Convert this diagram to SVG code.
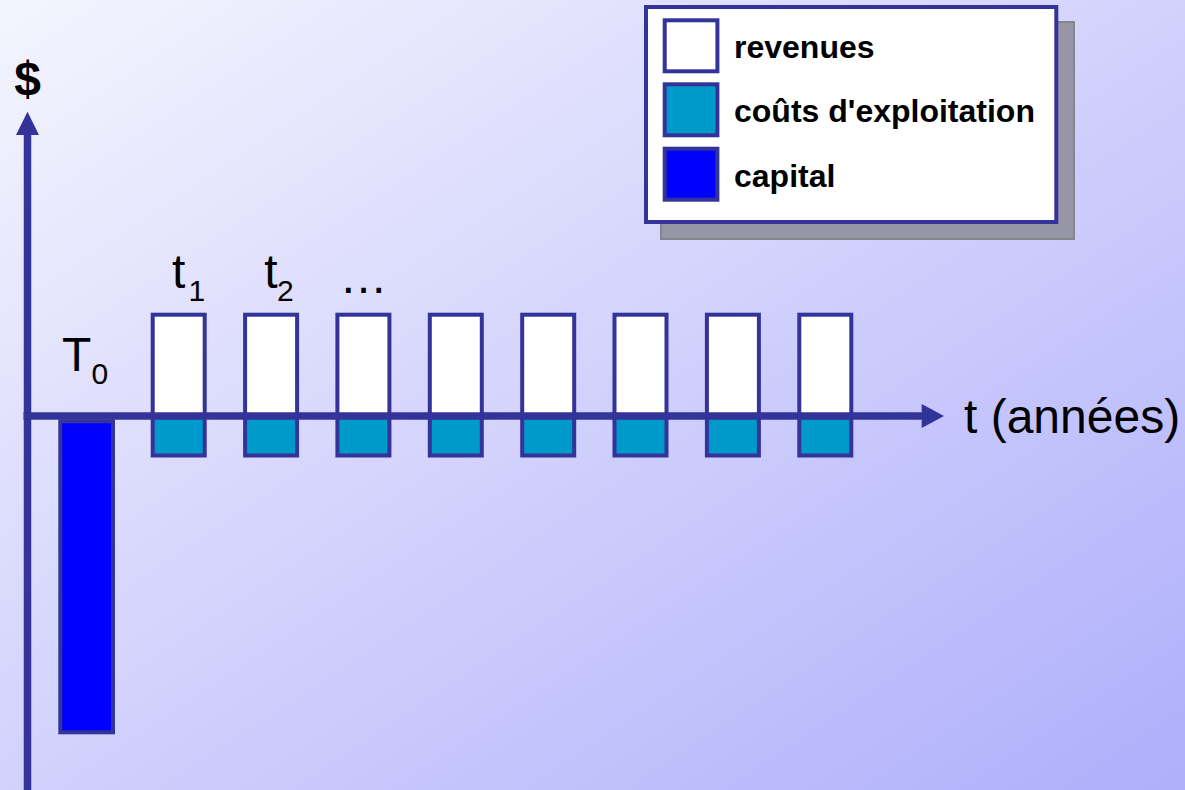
<svg xmlns="http://www.w3.org/2000/svg" width="1185" height="790" viewBox="0 0 1185 790">
<defs>
<linearGradient id="bg" x1="0" y1="0" x2="1" y2="1">
<stop offset="0" stop-color="#F5F5FE"/>
<stop offset="1" stop-color="#AEAEFB"/>
</linearGradient>
<style>
.ax{stroke:#333399;stroke-width:7.5;fill:none}
.head{fill:#333399}
.rev{fill:#FFFFFF;stroke:#333399;stroke-width:4}
.cost{fill:#0099CC;stroke:#333399;stroke-width:4}
.cap{fill:#0000FF;stroke:#333399;stroke-width:4}
.lbl{font-family:"Liberation Sans",Arial,sans-serif;font-size:48px;fill:#000}
.leg{font-family:"Liberation Sans",Arial,sans-serif;font-size:32px;font-weight:bold;fill:#000}
</style>
</defs>
<rect width="1185" height="790" fill="url(#bg)"/>

<g id="legend">
<rect x="661" y="22" width="413" height="217" fill="#9696A6" stroke="#858590" stroke-width="2"/>
<rect x="646" y="7" width="410.3" height="215" fill="#FFFFFF" stroke="#333399" stroke-width="4"/>
<rect class="rev" x="664.7" y="20.3" width="52.7" height="51"/>
<rect class="cost" x="664.7" y="84.3" width="52.7" height="51"/>
<rect class="cap" x="664.7" y="148.7" width="52.7" height="51"/>
<text class="leg" x="734" y="58.3">revenues</text>
<text class="leg" x="734" y="121.7">coûts d'exploitation</text>
<text class="leg" x="734" y="186.7">capital</text>
</g>

<g id="capital-bar">
<rect class="cap" x="60.3" y="421.3" width="52.7" height="311"/>
</g>

<g id="bars">
<g id="bar1"><rect class="rev" x="152.7" y="314.7" width="52" height="101.3"/><rect class="cost" x="152.7" y="416" width="52" height="39.5"/></g>
<g id="bar2"><rect class="rev" x="245.1" y="314.7" width="52" height="101.3"/><rect class="cost" x="245.1" y="416" width="52" height="39.5"/></g>
<g id="bar3"><rect class="rev" x="337.4" y="314.7" width="52" height="101.3"/><rect class="cost" x="337.4" y="416" width="52" height="39.5"/></g>
<g id="bar4"><rect class="rev" x="429.8" y="314.7" width="52" height="101.3"/><rect class="cost" x="429.8" y="416" width="52" height="39.5"/></g>
<g id="bar5"><rect class="rev" x="522.2" y="314.7" width="52" height="101.3"/><rect class="cost" x="522.2" y="416" width="52" height="39.5"/></g>
<g id="bar6"><rect class="rev" x="614.5" y="314.7" width="52" height="101.3"/><rect class="cost" x="614.5" y="416" width="52" height="39.5"/></g>
<g id="bar7"><rect class="rev" x="706.9" y="314.7" width="52" height="101.3"/><rect class="cost" x="706.9" y="416" width="52" height="39.5"/></g>
<g id="bar8"><rect class="rev" x="799.3" y="314.7" width="52" height="101.3"/><rect class="cost" x="799.3" y="416" width="52" height="39.5"/></g>
</g>

<g id="connectors">
<line class="ax" x1="27.5" y1="133" x2="27.5" y2="790"/>
<polygon class="head" points="27.5,111.7 39,135 16,135"/>
<line class="ax" x1="23.5" y1="416" x2="924" y2="416"/>
<polygon class="head" points="944,416 921.7,404 921.7,428"/>
</g>

<g id="labels">
<text class="lbl" x="27.5" y="95" text-anchor="middle" font-weight="bold">$</text>
<text class="lbl" x="62" y="370.7">T<tspan x="91.5" y="384" font-size="30">0</tspan></text>
<text class="lbl" x="172" y="288.3">t<tspan x="188.4" y="300.7" font-size="30">1</tspan></text>
<text class="lbl" x="264.2" y="288.3">t<tspan x="277" y="300.7" font-size="30">2</tspan></text>
<text class="lbl" x="339.5" y="293">…</text>
<text class="lbl" x="964" y="433">t (années)</text>
</g>
</svg>
